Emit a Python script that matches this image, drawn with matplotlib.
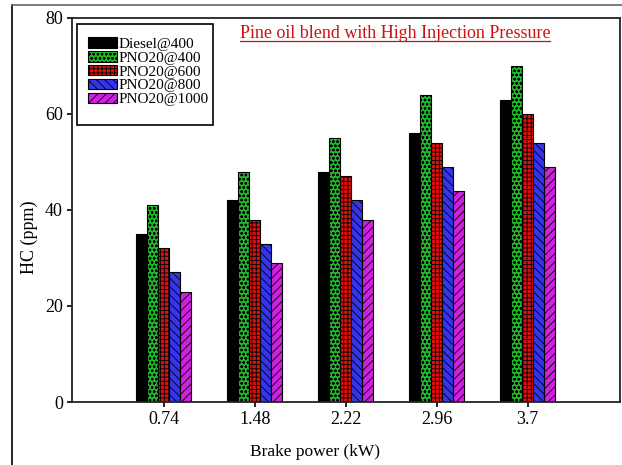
import matplotlib
matplotlib.use("Agg")
import matplotlib.pyplot as plt
import numpy as np
from matplotlib.lines import Line2D
from matplotlib.patches import Rectangle

plt.rcParams['font.family'] = ['Liberation Serif', 'DejaVu Serif']
plt.rcParams['hatch.linewidth'] = 0.6

categories = ["0.74", "1.48", "2.22", "2.96", "3.7"]
series_names = ["Diesel@400", "PNO20@400", "PNO20@600", "PNO20@800", "PNO20@1000"]
diesel_400 = [35, 42, 48, 56, 63]
pno20_400 = [41, 48, 55, 64, 70]
pno20_600 = [32, 38, 47, 54, 60]
pno20_800 = [27, 33, 42, 49, 54]
pno20_1000 = [23, 29, 38, 44, 49]
yticks = [0, 20, 40, 60, 80]

series = [diesel_400, pno20_400, pno20_600, pno20_800, pno20_1000]
colors = ["#000000", "#1fb82a", "#dd1010", "#3535ee", "#d020e0"]
hatches = [None, "oooo", "++++", "\\\\\\\\", "////"]

W, H = 622, 465
fig = plt.figure(figsize=(6.22, 4.65), dpi=100)
ax = fig.add_axes([72 / W, 1 - 402 / H, (620 - 72) / W, (402 - 18) / H])

x = np.arange(len(categories))
w = 0.121
for i, (vals, name, c, h) in enumerate(zip(series, series_names, colors, hatches)):
    ax.bar(x + (i - 2) * w, vals, width=w, color=c, edgecolor="black",
           linewidth=0.8, hatch=h, label=name)

ax.set_xlim(-1.012, 5.017)
ax.set_ylim(0, 80)
ax.set_yticks(yticks)
ax.set_xticks(x)
ax.set_xticklabels(categories)
ax.tick_params(axis='both', direction='out', length=3.6, width=1.2, labelsize=13, pad=3)
for s in ax.spines.values():
    s.set_linewidth(1.3)
    s.set_color("#222222")

ax.set_ylabel("HC (ppm)", fontsize=13, va="center", ha="center")
ax.yaxis.set_label_coords((29 - 72) / 548, (402 - 237) / 384)
ax.set_xlabel("Brake power (kW)", fontsize=12.5, va="top", ha="center")
ax.xaxis.set_label_coords((315 - 72) / 548, (402 - 444) / 384)

leg = ax.legend(loc="upper left", bbox_to_anchor=(88 / W, 1 - 37.5 / H),
                bbox_transform=fig.transFigure, fontsize=11,
                frameon=False, handlelength=1.9, handleheight=0.66,
                labelspacing=0.02, handletextpad=0.12, borderpad=0.0,
                borderaxespad=0.0)
fig.add_artist(Rectangle((77 / W, 1 - 125 / H), (213 - 77) / W, (125 - 24) / H,
                         transform=fig.transFigure, fill=False,
                         edgecolor="black", linewidth=1.2))

t = ax.text((395 - 72) / 548, (402 - 33) / 384, "Pine oil blend with High Injection Pressure",
            transform=ax.transAxes, ha="center", va="center", color="#d01010",
            fontsize=13)

fig.canvas.draw()
bb = t.get_window_extent()
inv = fig.transFigure.inverted()
(x0, y0), (x1, y1) = inv.transform([[bb.x0, bb.y0], [bb.x1, bb.y0]])
fig.add_artist(Line2D([x0, x1], [y0 + 0.002, y0 + 0.002], transform=fig.transFigure,
                      color="#d01010", linewidth=0.9))

# outer frame
fig.add_artist(Line2D([12 / W, 12 / W], [0, 1 - 5 / H], transform=fig.transFigure,
                      color="black", linewidth=1.2))
fig.add_artist(Line2D([12 / W, 1], [1 - 5 / H, 1 - 5 / H], transform=fig.transFigure,
                      color="#666666", linewidth=1.2))

fig.savefig("out.png", dpi=100)
